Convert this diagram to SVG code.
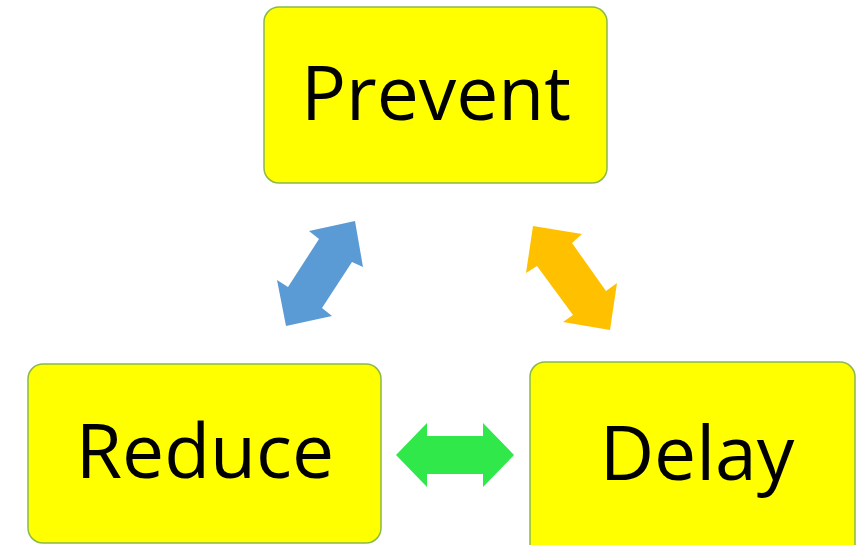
<svg xmlns="http://www.w3.org/2000/svg" width="856" height="545" viewBox="0 0 856 545">
<style>
.box{fill:#FFFF00;stroke:#8CB84A;stroke-width:1.5}
.lbl{font-family:"Open Sans","Liberation Sans",sans-serif;font-size:75px;fill:#000;text-anchor:middle}
</style>
<rect width="856" height="545" fill="#fff"/>
<g id="connectors">
<polygon fill="#5B9BD5" points="355,221 363,267 352,262 322,308 332,316 286,326 277,280 288,287 319,239 309,231"/>
<polygon fill="#FFC000" points="533,226 582,234 572,243 606,291 617,283 610,330 563,322 573,315 537,266 526,273"/>
<polygon fill="#30E84A" points="396,455 427,423 427,436 483,436 483,423 514,455 483,487 483,474 427,474 427,487"/>
</g>
<g id="prevent">
<rect class="box" x="264" y="7" width="343" height="176" rx="15"/>
<text class="lbl" x="436" y="120">Prevent</text>
</g>
<g id="reduce">
<rect class="box" x="28" y="364" width="353" height="179" rx="15"/>
<text class="lbl" x="205" y="478">Reduce</text>
</g>
<g id="delay">
<rect class="box" x="530" y="362" width="325" height="200" rx="15"/>
<text class="lbl" x="697" y="480">Delay</text>
</g>
</svg>
